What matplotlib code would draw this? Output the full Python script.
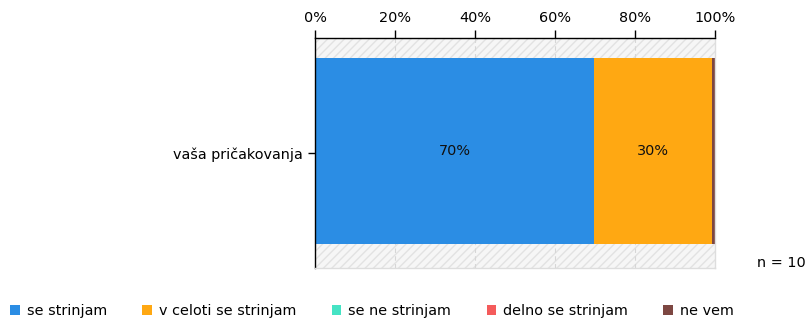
import matplotlib.pyplot as plt
from matplotlib.patches import Rectangle, Patch

categories = ["vaša pričakovanja"]
series = ["se strinjam", "v celoti se strinjam", "se ne strinjam", "delno se strinjam", "ne vem"]
values = [69.75, 29.5, 0.0, 0.0, 0.75]
labels = ["70%", "30%", "", "", ""]
colors = ["#2b8de4", "#ffa812", "#45e3c4", "#f45b5b", "#7d4742"]
ticks = [0, 20, 40, 60, 80, 100]
n_text = "n = 10"

plt.rcParams['font.family'] = ['DejaVu Sans']
fs = 10.4
fig = plt.figure(figsize=(8.06, 3.2), dpi=100)
ax = fig.add_axes([315 / 806, 1 - 268 / 320, 400 / 806, 230 / 320])

# hatched background
ax.set_facecolor("#f6f6f6")
ax.add_patch(Rectangle((0, 0), 100, 1, facecolor="none", edgecolor="#e2e2e2",
                       hatch="////", linewidth=0, zorder=0))
for t in ticks[1:-1]:
    ax.axvline(t, color="#d6d6d6", linestyle=(0, (4, 3)), linewidth=0.8, zorder=1)

left = 0
for v, lab, c in zip(values, labels, colors):
    ax.barh(0.508, v, left=left, height=0.81, color=c, zorder=2)
    if lab:
        ax.text(left + v / 2, 0.508, lab, ha="center", va="center", fontsize=fs, color="#111111", zorder=3)
    left += v

ax.set_xlim(0, 100)
ax.set_ylim(0, 1)
ax.xaxis.tick_top()
ax.set_xticks(ticks)
ax.set_xticklabels([f"{t}%" for t in ticks], fontsize=fs)
ax.tick_params(axis="x", length=6, width=1, color="black", pad=3)
ax.set_yticks([0.5])
ax.set_yticklabels(categories, fontsize=fs)
ax.tick_params(axis="y", length=5, width=1, color="black", pad=4)

for s in ["top", "left"]:
    ax.spines[s].set_color("black")
    ax.spines[s].set_linewidth(1)
for s in ["bottom", "right"]:
    ax.spines[s].set_color("#dddddd")
    ax.spines[s].set_linewidth(1)

fig.text(757 / 806, 1 - 263 / 320, n_text, fontsize=fs, va="center", ha="left")

handles = [Patch(facecolor=c, edgecolor="none") for c in colors]
fig.legend(handles, series, loc="center left", bbox_to_anchor=(0.0, 1 - 311 / 320), ncol=5,
           frameon=False, fontsize=fs, handlelength=0.65, handleheight=0.65,
           handletextpad=0.5, columnspacing=2.45, borderaxespad=0.3)

fig.savefig("out.png", dpi=100)
